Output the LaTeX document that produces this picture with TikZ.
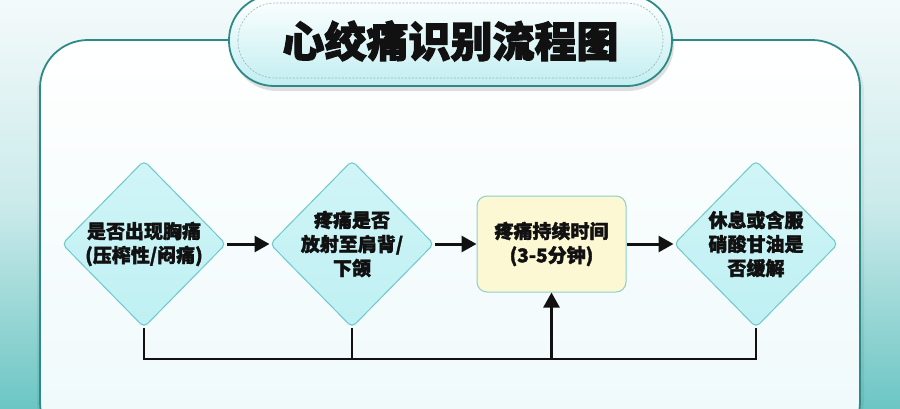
\documentclass[tikz,border=0pt]{standalone}
\usepackage{fontspec}
\setmainfont{Noto Sans CJK SC}[BoldFeatures={FakeBold=1.8}]
\newfontfamily\titlefont{Noto Sans CJK SC}[BoldFeatures={FakeBold=2.6}]
\usetikzlibrary{shapes.geometric,arrows.meta}
\definecolor{bgtop}{HTML}{F4FAFB}
\definecolor{bgbot}{HTML}{6CC6C4}
\definecolor{panelbd}{HTML}{2E8A86}
\definecolor{panelbot}{HTML}{EEF9FB}
\definecolor{pillbot}{HTML}{C2EEF1}
\definecolor{dashc}{HTML}{9AB4B6}
\definecolor{diafill}{HTML}{BFF0F3}
\definecolor{diatop}{HTML}{D0F5F7}
\definecolor{diabd}{HTML}{6CC9C9}
\definecolor{boxfill}{HTML}{FCF8D3}
\definecolor{boxbd}{HTML}{8CCFC8}
\definecolor{ink}{HTML}{111111}
\tikzset{
  decision/.style={diamond, shape aspect=1, minimum width=164, minimum height=167, inner sep=0pt,
    rounded corners=5pt, top color=diatop, bottom color=diafill, draw=diabd, line width=1pt},
  stepbox/.style={rectangle, minimum width=149, minimum height=96, inner sep=0pt,
    rounded corners=10pt, fill=boxfill, draw=boxbd, line width=1pt},
  label/.style={font=\bfseries\fontsize{19}{24}\selectfont, text=ink, align=center, inner sep=0pt},
  flow/.style={draw=ink, line width=3pt, -{Triangle[length=15pt,width=16pt]}},
  loopline/.style={draw=ink, line width=2.6pt},
  looparrow/.style={draw=ink, line width=2.6pt, -{Triangle[length=15pt,width=16pt]}}
}
\begin{document}
\begin{tikzpicture}[x=1pt,y=-1pt]
\useasboundingbox (0,0) rectangle (900,408);
% background
\shade[top color=bgtop, bottom color=bgbot, middle color=bgtop!70!bgbot] (0,0) rectangle (900,408);
% panel shadow
\fill[black, opacity=0.06, rounded corners=50pt] (37,42) rectangle (864,450);
% panel
\shadedraw[top color=white, bottom color=panelbot, draw=panelbd, line width=1.8pt, rounded corners=48pt] (40,40) rectangle (860,450);
% title pill
\fill[black, opacity=0.12, rounded corners=46pt] (231,-2) rectangle (674,91);
\shadedraw[top color=white, bottom color=pillbot, draw=panelbd, line width=1.8pt, rounded corners=45pt] (229,-5) rectangle (672,86);
\draw[dashc, dashed, line width=0.6pt, dash pattern=on 2pt off 1.5pt, rounded corners=37pt] (238,3) rectangle (663,78);
\node[font=\titlefont\bfseries\fontsize{42}{48}\selectfont, text=ink, inner sep=0pt] (title) at (450.5,41) {心绞痛识别流程图};
% nodes
\node[decision] (d1) at (144,244) {};
\node[label] (t1) at (d1) {是否出现胸痛\\(压榨性/闷痛)};
\node[decision] (d2) at (352,244) {};
\node[label] (t2) at (d2) {疼痛是否\\放射至肩背/\\下颌};
\node[stepbox] (b3) at (551.5,244) {};
\node[label] (t3) at (b3) {疼痛持续时间\\(3-5分钟)};
\node[decision] (d4) at (756,244) {};
\node[label] (t4) at (d4) {休息或含服\\硝酸甘油是\\否缓解};
% arrows
\draw[flow] (d1.east) -- (d2.west);
\draw[flow] (d2.east) -- (b3.west);
\draw[flow] (b3.east) -- (d4.west);
% loop back
\coordinate (ly) at (0,359);
\draw[loopline] (d1.south) -- (d1.south |- ly) -- (d4.south |- ly) -- (d4.south);
\draw[loopline] (d2.south) -- (d2.south |- ly);
\draw[looparrow] (b3.south |- ly) -- (b3.south);
\end{tikzpicture}
\end{document}
